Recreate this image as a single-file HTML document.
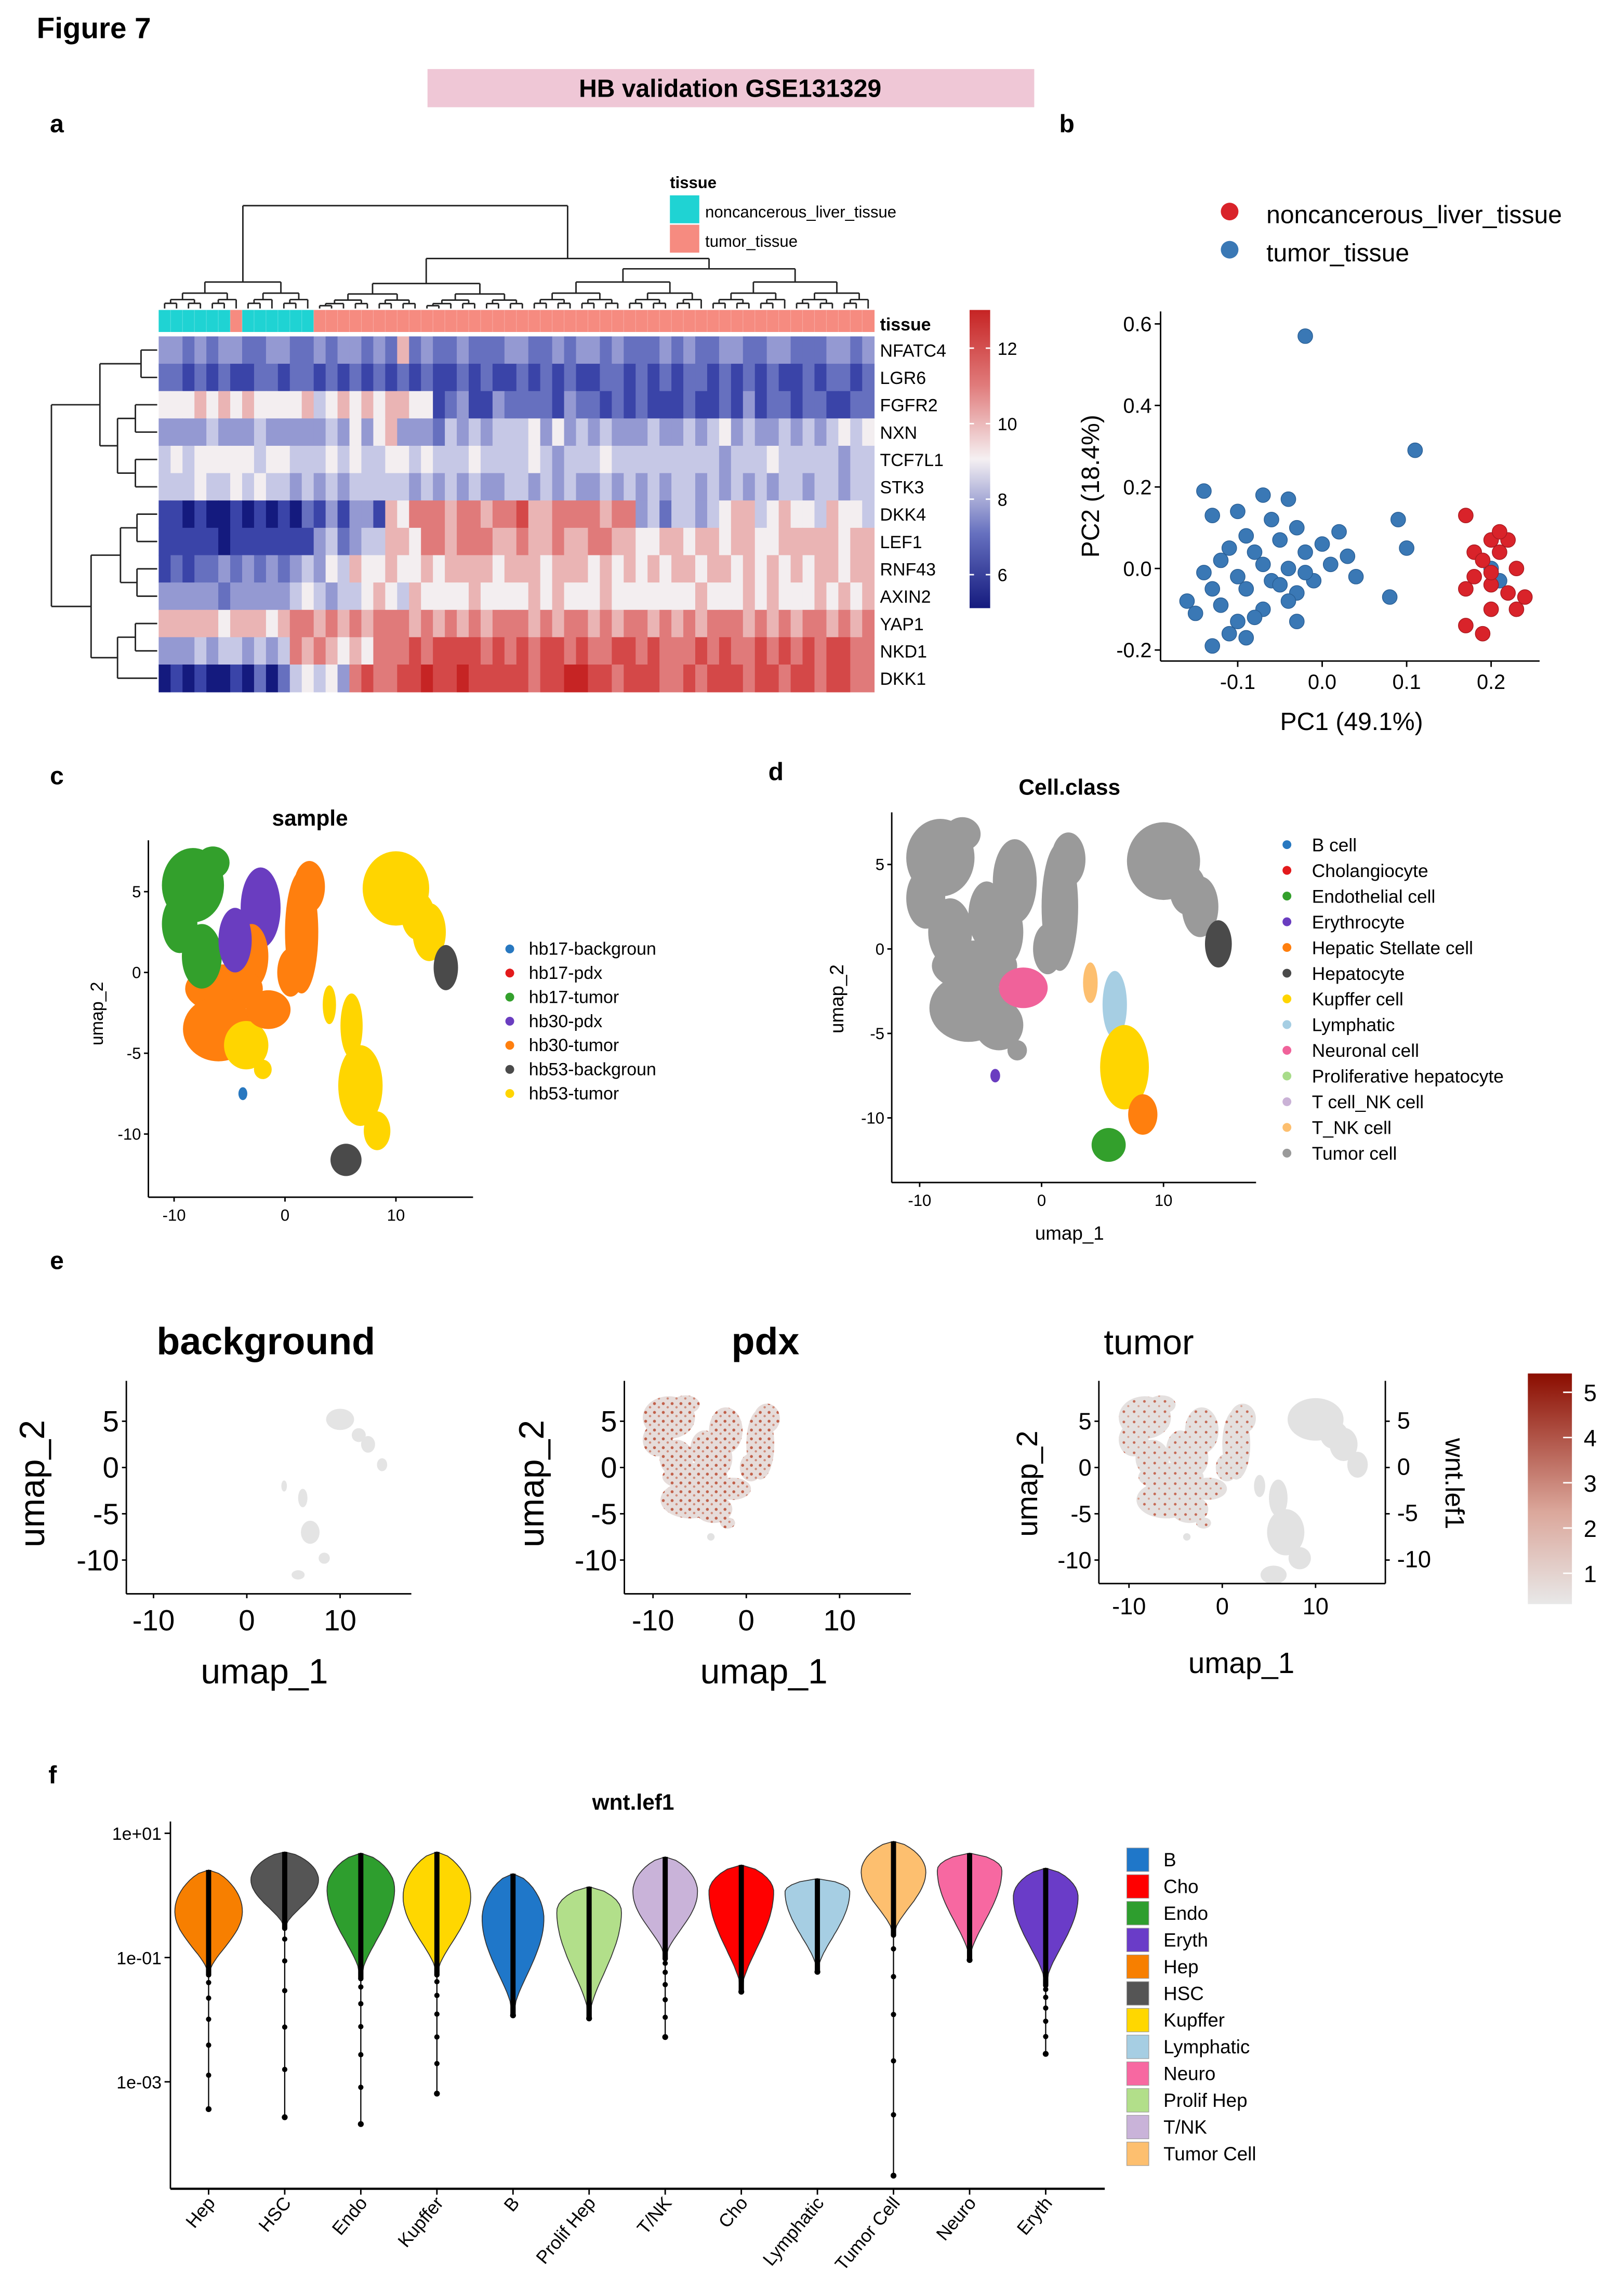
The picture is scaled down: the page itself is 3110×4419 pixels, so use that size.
<!DOCTYPE html>
<html><head><meta charset="utf-8"><style>
html,body{margin:0;padding:0;background:#fff;}
svg{display:block;font-family:"Liberation Sans",Arial,sans-serif;}
</style></head><body>
<svg id="fig" width="3110" height="4419" viewBox="0 0 1100 1563" xmlns="http://www.w3.org/2000/svg">
<defs>
<linearGradient id="hmgrad" x1="0" y1="1" x2="0" y2="0">
<stop offset="0" stop-color="#141a7e"/><stop offset="0.25" stop-color="#6670bf"/><stop offset="0.5" stop-color="#f5f0f2"/><stop offset="0.75" stop-color="#e07a7a"/><stop offset="1" stop-color="#c62424"/>
</linearGradient>
<linearGradient id="exgrad" x1="0" y1="1" x2="0" y2="0">
<stop offset="0" stop-color="#e8e8e8"/><stop offset="0.4" stop-color="#dba79b"/><stop offset="1" stop-color="#8b0d00"/>
</linearGradient>
<pattern id="redspeck" width="6" height="6" patternUnits="userSpaceOnUse">
<rect width="6" height="6" fill="#e6dcda"/><circle cx="1.5" cy="1.5" r="1" fill="#c0604a"/><circle cx="4.5" cy="4" r="0.8" fill="#d08a78"/>
</pattern>
<pattern id="redspeck2" width="7" height="7" patternUnits="userSpaceOnUse">
<rect width="7" height="7" fill="#e4e0df"/><circle cx="2" cy="2" r="0.9" fill="#c56a55"/><circle cx="5" cy="5.2" r="0.7" fill="#d8a090"/>
</pattern>
</defs>
<text x="25" y="26" font-size="20" font-weight="bold">Figure 7</text>
<rect x="291" y="47" width="413" height="26" fill="#efc7d6"/>
<text x="497" y="66" font-size="17" font-weight="bold" text-anchor="middle">HB validation GSE131329</text>
<text x="34" y="90" font-size="17" font-weight="bold">a</text>
<text x="721" y="90" font-size="17" font-weight="bold">b</text>
<text x="34" y="534" font-size="17" font-weight="bold">c</text>
<text x="523" y="531" font-size="17" font-weight="bold">d</text>
<text x="34" y="864" font-size="17" font-weight="bold">e</text>
<text x="33" y="1214" font-size="17" font-weight="bold">f</text>
<g id="pa"></g>
<g id="pb"></g>
<g id="pc"></g>
<g id="pd"></g>
<g id="pe"></g>
<g id="pf"></g>
</svg>
<script>
const NS='http://www.w3.org/2000/svg';
function mk(tag, attrs, parent, name){
  const el=document.createElementNS(NS,tag);
  for(const k in attrs) el.setAttribute(k,attrs[k]);
  
  
  parent.appendChild(el);
  return el;
}
function txt(parent,x,y,s,size,name,extra){
  const a=Object.assign({x:x,y:y,'font-size':size},extra||{});
  const t=mk('text',a,parent,name); t.textContent=s; return t;
}

/* ---------- Panel a: heatmap data ---------- */
const genes=['NFATC4','LGR6','FGFR2','NXN','TCF7L1','STK3','DKK4','LEF1','RNF43','AXIN2','YAP1','NKD1','DKK1'];
const tissueCols='NNNNNNTNNNNNNTTTTTTTTTTTTTTTTTTTTTTTTTTTTTTTTTTTTTTTTTTTTTTT';
const expr=[
'332323322332232332326232232223322323323222323223322332223323',
'221212112212212121212121121211212121122121212212121211212212',
'555656565555645656566551231132222132212121112112131221221122',
'333343334333334353563332434344453534343334334345343343434545',
'454555554554445454455454445444454344454444444443444544444344',
'444544545443434344444343434334434343343434344343434344344344',
'110100101010213133165777677677866777767734244345664565546554',
'111110111111134234466577677766766766776655665665665566666566',
'121223232323435465565565666656665666565656566566565656566566',
'333332333334543445654655556555565655565555555655565655565656',
'666665666567767676777676767677767677676776767677767676776767',
'333434434347676565777878888787878878778878777878778787878877',
'010100102024545378778898898888878899887888778788878878878877'];
const palette=['#141a7e','#3a44a8','#6670bf','#9499d2','#c6c8e6','#f3eef0','#eab4b4','#e07a7a','#d44848','#c62424'];
const hmTicks=[12,10,8,6];

(function(){
  const g=document.getElementById('pa');
  const x0=108,x1=595,y0=229,y1=471;
  const nc=expr[0].length, cw=(x1-x0)/nc, rh=(y1-y0)/genes.length;
  for(let j=0;j<tissueCols.length;j++){
    mk('rect',{x:x0+j*cw,y:211,width:cw+0.3,height:15,fill:tissueCols[j]==='N'?'#1fd3d3':'#f68b80'},g,'tissue-cell');
  }
  for(let j=1;j<tissueCols.length;j++){
    mk('line',{x1:x0+j*cw,x2:x0+j*cw,y1:211,y2:226,stroke:'#fff','stroke-opacity':0.25,'stroke-width':0.4},g,'tissue-grid');
  }
  txt(g,599,225,'tissue',12,'tissue-row-label',{'font-weight':'bold'});
  for(let i=0;i<genes.length;i++){
    const row=expr[i];
    for(let j=0;j<row.length;j++){
      mk('rect',{x:x0+j*cw,y:y0+i*rh,width:cw+0.3,height:rh+0.3,fill:palette[+row[j]]},g,'heatmap-cell');
    }
    txt(g,599,y0+i*rh+rh/2+4.5,genes[i],12,'gene-label');
  }
  function line(a,b,c,d){mk('line',{x1:a,y1:b,x2:c,y2:d,stroke:'#222','stroke-width':1},g,'dendrogram-branch');}
  function cx(j){return x0+(j+0.5)*cw;}
  function rec(a,b,y){
    if(a===b) return [cx(a),210];
    const m=Math.floor((a+b)/2), yc=y+(210-y)*0.42;
    const L=rec(a,m,yc),R=rec(m+1,b,yc);
    line(L[0],y,L[0],L[1]);line(R[0],y,R[0],R[1]);line(L[0],y,R[0],y);
    return [(L[0]+R[0])/2,y];
  }
  function join(L,R,y){line(L[0],y,L[0],L[1]);line(R[0],y,R[0],R[1]);line(L[0],y,R[0],y);return [(L[0]+R[0])/2,y];}
  const nrm=rec(0,12,192), t1=rec(13,30,193), t2a=rec(31,45,192), t2b=rec(46,59,192);
  const t2=join(t2a,t2b,183), t=join(t1,t2,176);
  join(nrm,t,140);
  function ry(i){return y0+(i+0.5)*rh;}
  function rec2(a,b,x){
    if(a===b) return [107,ry(a)];
    const m=Math.floor((a+b)/2), xc=x+(107-x)*0.45;
    const L=rec2(a,m,xc),R=rec2(m+1,b,xc);
    line(x,L[1],L[0],L[1]);line(x,R[1],R[0],R[1]);line(x,L[1],x,R[1]);
    return [x,(L[1]+R[1])/2];
  }
  function join2(L,R,x){line(x,L[1],L[0],L[1]);line(x,R[1],R[0],R[1]);line(x,L[1],x,R[1]);return [x,(L[1]+R[1])/2];}
  const u1=rec2(0,1,96), u2=rec2(2,5,80), U=join2(u1,u2,68);
  const m1=rec2(6,9,82), m2=rec2(10,12,80), M=join2(m1,m2,62);
  join2(U,M,35);
  txt(g,456,128,'tissue',11,'legend-title',{'font-weight':'bold'});
  mk('rect',{x:456,y:133,width:20,height:19,fill:'#1fd3d3'},g,'legend-swatch-noncancerous');
  mk('rect',{x:456,y:153,width:20,height:19,fill:'#f68b80'},g,'legend-swatch-tumor');
  txt(g,480,148,'noncancerous_liver_tissue',11,'legend-label-noncancerous');
  txt(g,480,168,'tumor_tissue',11,'legend-label-tumor');
  mk('rect',{x:660,y:211,width:14,height:203,fill:'url(#hmgrad)'},g,'heatmap-colorbar');
  const cbY=v=>237+(12-v)*25.7;
  hmTicks.forEach(v=>{
    mk('line',{x1:660,x2:663,y1:cbY(v),y2:cbY(v),stroke:'#fff'},g,'colorbar-tick');
    mk('line',{x1:671,x2:674,y1:cbY(v),y2:cbY(v),stroke:'#fff'},g,'colorbar-tick');
    txt(g,679,cbY(v)+4.5,String(v),12,'colorbar-tick-label');
  });
})();

/* ---------- Panel b: PCA ---------- */
const pcTumorX=[-0.02,0.11,-0.14,-0.07,-0.04,-0.1,-0.06,-0.03,-0.13,0.09,0.02,-0.09,-0.05,0,0.1,-0.11,-0.08,-0.02,0.03,-0.12,-0.07,-0.04,0.01,-0.14,-0.1,-0.06,-0.01,-0.13,-0.09,-0.03,0.08,-0.16,-0.12,-0.07,-0.04,-0.15,-0.1,-0.03,-0.11,-0.09,-0.13,0.2,0.21,-0.08,-0.05,-0.02,0.04];
const pcTumorY=[0.57,0.29,0.19,0.18,0.17,0.14,0.12,0.1,0.13,0.12,0.09,0.08,0.07,0.06,0.05,0.05,0.04,0.04,0.03,0.02,0.01,0,0.01,-0.01,-0.02,-0.03,-0.03,-0.05,-0.05,-0.06,-0.07,-0.08,-0.09,-0.1,-0.08,-0.11,-0.13,-0.13,-0.16,-0.17,-0.19,0,-0.03,-0.12,-0.04,-0.01,-0.02];
const pcNormX=[0.17,0.2,0.22,0.18,0.21,0.19,0.23,0.18,0.2,0.22,0.24,0.17,0.2,0.23,0.17,0.19,0.21,0.2];
const pcNormY=[0.13,0.07,0.07,0.04,0.04,0.02,0,-0.02,-0.04,-0.06,-0.07,-0.05,-0.1,-0.1,-0.14,-0.16,0.09,-0.01];
const pcXTicks=[-0.1,0.0,0.1,0.2];
const pcYTicks=[0.6,0.4,0.2,0.0,-0.2];
(function(){
  const g=document.getElementById('pb');
  const X=v=>900+575*v, Y=v=>387-277.5*v;
  const L=790;
  mk('line',{x1:L,y1:212,x2:L,y2:450,stroke:'#000','stroke-width':1},g,'y-axis-line');
  mk('line',{x1:L,y1:450,x2:1048,y2:450,stroke:'#000','stroke-width':1},g,'x-axis-line');
  pcYTicks.forEach(v=>{
    mk('line',{x1:L-4,x2:L,y1:Y(v),y2:Y(v),stroke:'#000'},g,'y-tick');
    txt(g,L-6,Y(v)+5,v.toFixed(1),14,'y-tick-label',{'text-anchor':'end'});
  });
  pcXTicks.forEach(v=>{
    mk('line',{x1:X(v),x2:X(v),y1:450,y2:454,stroke:'#000'},g,'x-tick');
    txt(g,X(v),469,v.toFixed(1),14,'x-tick-label',{'text-anchor':'middle'});
  });
  txt(g,920,497,'PC1 (49.1%)',17,'x-axis-title',{'text-anchor':'middle'});
  txt(g,0,0,'PC2 (18.4%)',17,'y-axis-title',{'text-anchor':'middle',transform:'translate(748,331) rotate(-90)'});
  pcTumorX.forEach((v,i)=>mk('circle',{cx:X(v),cy:Y(pcTumorY[i]),r:5,fill:'#3a78b5',stroke:'#2a5f95','stroke-width':0.5},g,'point-tumor'));
  pcNormX.forEach((v,i)=>mk('circle',{cx:X(v),cy:Y(pcNormY[i]),r:5,fill:'#d9232a',stroke:'#a81a20','stroke-width':0.5},g,'point-noncancerous'));
  mk('circle',{cx:837,cy:144,r:6,fill:'#d9232a'},g,'legend-dot-noncancerous');
  mk('circle',{cx:837,cy:170,r:6,fill:'#3a78b5'},g,'legend-dot-tumor');
  txt(g,862,152,'noncancerous_liver_tissue',17,'legend-label-noncancerous');
  txt(g,862,178,'tumor_tissue',17,'legend-label-tumor');
})();

/* ---------- UMAP blob data ---------- */
const blobX=[-8.3,-6.5,-2.2,-3.0,1.5,2.2,-5.5,-6.0,-3.5,-2.0,10.0,13.0,14.5,6.0,6.8,8.3,5.5,-3.8,-1.5,-9.5,0.5,12.0,-7.5,-4.5,4.0];
const blobY=[5.4,6.8,4.0,1.0,2.5,5.3,-1.0,-3.5,-4.5,-6.0,5.2,2.5,0.3,-3.3,-7.0,-9.8,-11.6,-7.5,-2.3,3.0,0.0,3.5,1.0,2.0,-2.0];
const blobRX=[2.8,1.5,1.8,1.5,1.5,1.4,3.5,3.2,2.0,0.8,3.0,1.5,1.1,1.0,2.0,1.2,1.4,0.4,2.0,1.6,1.2,1.5,1.8,1.5,0.6];
const blobRY=[2.3,1.0,2.5,2.0,3.8,1.6,1.5,2.0,1.5,0.6,2.3,1.8,1.4,2.0,2.5,1.2,1.0,0.4,1.2,1.8,1.5,1.5,2.0,2.0,1.2];
const blobSample=[2,2,3,4,4,4,4,4,6,6,6,6,5,6,6,6,5,0,4,2,4,6,2,3,6];
const blobCell=[12,12,12,12,12,12,12,12,12,12,12,12,5,7,6,4,2,3,8,12,12,12,12,12,11];
const sampleNames=['hb17-backgroun','hb17-pdx','hb17-tumor','hb30-pdx','hb30-tumor','hb53-backgroun','hb53-tumor'];
const sampleColors=['#2878c0','#e31a1c','#33a02c','#6a3dc0','#ff7f0e','#4a4a4a','#ffd500'];
const cellNames=['B cell','Cholangiocyte','Endothelial cell','Erythrocyte','Hepatic Stellate cell','Hepatocyte','Kupffer cell','Lymphatic','Neuronal cell','Proliferative hepatocyte','T cell_NK cell','T_NK cell','Tumor cell'];
const cellColors=['#2878c0','#e31a1c','#33a02c','#6a3dc0','#ff7f0e','#4a4a4a','#ffd500','#a6cee3','#f0629a','#a8dc8a','#cab2d6','#fdbf6f','#9a9a9a'];
const umapXTicks=[-10,0,10];
const umapYTicks=[5,0,-5,-10];

function umapAxes(g,o){
  mk('line',{x1:o.l,y1:o.t,x2:o.l,y2:o.b,stroke:'#000','stroke-width':o.lw||1},g,'y-axis-line');
  mk('line',{x1:o.l,y1:o.b,x2:o.r,y2:o.b,stroke:'#000','stroke-width':o.lw||1},g,'x-axis-line');
  umapXTicks.forEach(v=>{
    mk('line',{x1:o.X(v),x2:o.X(v),y1:o.b,y2:o.b+3,stroke:'#000'},g,'x-tick');
    txt(g,o.X(v),o.b+o.fs+5,String(v),o.fs,'x-tick-label',{'text-anchor':'middle'});
  });
  umapYTicks.forEach(v=>{
    mk('line',{x1:o.l-3,x2:o.l,y1:o.Y(v),y2:o.Y(v),stroke:'#000'},g,'y-tick');
    txt(g,o.l-5,o.Y(v)+o.fs*0.35,String(v),o.fs,'y-tick-label',{'text-anchor':'end'});
  });
}

/* ---------- Panel c ---------- */
(function(){
  const g=document.getElementById('pc');
  const X=v=>194+7.55*v, Y=v=>662-11*v;
  txt(g,211,562,'sample',15,'plot-title',{'font-weight':'bold','text-anchor':'middle'});
  blobX.forEach((v,i)=>{
    mk('ellipse',{cx:X(v),cy:Y(blobY[i]),rx:blobRX[i]*7.55,ry:blobRY[i]*11,fill:sampleColors[blobSample[i]]},g,'umap-cluster');
  });
  umapAxes(g,{l:101,t:572,b:815,r:322,X:X,Y:Y,fs:11});
  txt(g,0,0,'umap_2',12,'y-axis-title',{'text-anchor':'middle',transform:'translate(70,690) rotate(-90)'});
  sampleNames.forEach((s,i)=>{
    const y=646+i*16.4;
    mk('circle',{cx:347,cy:y,r:3,fill:sampleColors[i]},g,'legend-dot');
    txt(g,360,y+4,s,12,'legend-label');
  });
})();

/* ---------- Panel d ---------- */
(function(){
  const g=document.getElementById('pd');
  const X=v=>709+8.3*v, Y=v=>646-11.5*v;
  txt(g,728,541,'Cell.class',15,'plot-title',{'font-weight':'bold','text-anchor':'middle'});
  blobX.forEach((v,i)=>{
    mk('ellipse',{cx:X(v),cy:Y(blobY[i]),rx:blobRX[i]*8.3,ry:blobRY[i]*11.5,fill:cellColors[blobCell[i]]},g,'umap-cluster');
  });
  umapAxes(g,{l:607,t:553,b:805,r:855,X:X,Y:Y,fs:11});
  txt(g,0,0,'umap_2',13,'y-axis-title',{'text-anchor':'middle',transform:'translate(574,680) rotate(-90)'});
  txt(g,728,844,'umap_1',13,'x-axis-title',{'text-anchor':'middle'});
  cellNames.forEach((s,i)=>{
    const y=575+i*17.5;
    mk('circle',{cx:876,cy:y,r:3,fill:cellColors[i]},g,'legend-dot');
    txt(g,893,y+4.5,s,12.5,'legend-label');
  });
})();

/* ---------- Panel e ---------- */
const exprTicks=[5,4,3,2,1];
(function(){
  const g=document.getElementById('pe');
  const subs=[
    {name:'background',tx:181,l:86,r:280,b:1085,x0:168,fs:20,ts:26,bold:true,mode:0,ylab:30,xlab:180,xly:1146,tfs:24},
    {name:'pdx',tx:521,l:425,r:620,b:1085,x0:508,fs:20,ts:26,bold:true,mode:1,ylab:370,xlab:520,xly:1146,tfs:24},
    {name:'tumor',tx:782,l:748,r:943,b:1078,x0:832,fs:16,ts:24,bold:false,mode:2,ylab:706,xlab:845,xly:1139,tfs:20}
  ];
  subs.forEach(s=>{
    const X=v=>s.x0+6.35*v, Y=v=>999-6.3*v;
    const sg=mk('g',{},g,'feature-plot-'+s.name);
    txt(sg,s.tx,922,s.name,s.ts,'plot-title',{'text-anchor':'middle','font-weight':s.bold?'bold':'normal'});
    blobX.forEach((v,i)=>{
      let fill='#e2e2e2', sc=1;
      if(s.mode===0){ if(blobX[i]<4) return; sc=0.5; fill='#e4e4e4'; }
      else if(blobX[i]<4 && blobY[i]>-7) fill = s.mode===1?'url(#redspeck)':'url(#redspeck2)';
      if(s.mode===1 && blobX[i]>=4) return;
      mk('ellipse',{cx:X(v),cy:Y(blobY[i]),rx:blobRX[i]*6.35*sc,ry:blobRY[i]*6.3*sc,fill:fill},sg,'umap-cluster');
    });
    umapAxes(sg,{l:s.l,t:940,b:s.b,r:s.r,X:X,Y:Y,fs:s.fs});
    txt(sg,0,0,'umap_2',s.tfs,'y-axis-title',{'text-anchor':'middle',transform:'translate('+s.ylab+',1010) rotate(-90)'});
    txt(sg,s.xlab,s.xly,'umap_1',s.tfs,'x-axis-title',{'text-anchor':'middle'});
    if(s.mode===2){
      mk('line',{x1:943,y1:940,x2:943,y2:1078,stroke:'#000'},sg,'right-axis-line');
      umapYTicks.forEach(v=>{
        mk('line',{x1:943,x2:946,y1:Y(v),y2:Y(v),stroke:'#000'},sg,'right-tick');
        txt(sg,951,Y(v)+5,String(v),16,'right-tick-label');
      });
      txt(sg,0,0,'wnt.lef1',18,'right-axis-title',{'text-anchor':'middle',transform:'translate(984,1010) rotate(90)'});
    }
  });
  mk('rect',{x:1040,y:935,width:30,height:157,fill:'url(#exgrad)'},g,'expression-colorbar');
  const cY=v=>1071-(v-1)*30.8;
  exprTicks.forEach(v=>{
    mk('line',{x1:1064,x2:1070,y1:cY(v),y2:cY(v),stroke:'#fff'},g,'colorbar-tick');
    txt(g,1078,cY(v)+6,String(v),16,'colorbar-tick-label');
  });
})();

/* ---------- Panel f: violin ---------- */
const vCats=['Hep','HSC','Endo','Kupffer','B','Prolif Hep','T/NK','Cho','Lymphatic','Tumor Cell','Neuro','Eryth'];
const vColors=['#f77f00','#555555','#2e9e2e','#ffd700','#1f77c9','#b2df8a','#c9b3d9','#ff0000','#a6cee3','#fdbf6f','#f768a1','#6a3cc8'];
const vTop=[0.41,0.70,0.68,0.70,0.35,0.14,0.62,0.49,0.27,0.87,0.68,0.44];
const vPeak=[-0.26,0.25,0.11,-0.02,-0.37,-0.26,0.06,0.06,0.06,0.38,0.41,-0.02];
const vBottom=[-1.28,-0.53,-1.34,-1.28,-1.93,-1.98,-1.02,-1.55,-1.23,-0.64,-1.04,-1.45];
const vTail=[-3.44,-3.57,-3.68,-3.19,-1.93,-1.98,-2.28,-1.55,-1.23,-4.51,-1.04,-2.55];
const vWidth=[23,23,23,23,21,22,22,22,22,22,22,22];
const legendOrder=['B','Cho','Endo','Eryth','Hep','HSC','Kupffer','Lymphatic','Neuro','Prolif Hep','T/NK','Tumor Cell'];
const fYTicks=[1,-1,-3];
const fYTickLabels=['1e+01','1e-01','1e-03'];
(function(){
  const g=document.getElementById('pf');
  const X=i=>142+i*51.8, Y=v=>1248+(1-v)*42.3;
  txt(g,431,1232,'wnt.lef1',15,'plot-title',{'font-weight':'bold','text-anchor':'middle'});
  mk('line',{x1:116,y1:1240,x2:116,y2:1490,stroke:'#000'},g,'y-axis-line');
  mk('line',{x1:116,y1:1490,x2:752,y2:1490,stroke:'#000','stroke-width':1.5},g,'x-axis-line');
  fYTicks.forEach((v,i)=>{
    mk('line',{x1:112,x2:116,y1:Y(v),y2:Y(v),stroke:'#000'},g,'y-tick');
    txt(g,110,Y(v)+4.5,fYTickLabels[i],12,'y-tick-label',{'text-anchor':'end'});
  });
  vCats.forEach((c,i)=>{
    const cx=X(i), top=vTop[i], pk=vPeak[i], bt=vBottom[i], w=vWidth[i];
    const right=[], left=[];
    const n=30;
    for(let k=0;k<=n;k++){
      const v=top-(top-bt)*k/n;
      let hw;
      if(v>=pk){ const t=(top-v)/(top-pk); hw=w*Math.pow(Math.sin(t*Math.PI/2),0.6); }
      else { const t=(pk-v)/(pk-bt); hw=Math.max(1.5,w*Math.pow(Math.cos(t*Math.PI/2),1.6)); }
      right.push((cx+hw).toFixed(1)+','+Y(v).toFixed(1));
      left.unshift((cx-hw).toFixed(1)+','+Y(v).toFixed(1));
    }
    mk('path',{d:'M'+right.join(' L')+' L'+left.join(' L')+'Z',fill:vColors[i],stroke:'#333','stroke-width':0.6},g,'violin-'+c);
    mk('line',{x1:cx,x2:cx,y1:Y(top),y2:Y(vTail[i]),stroke:'#000','stroke-width':0.8},g,'jitter-line');
    mk('line',{x1:cx,x2:cx,y1:Y(top),y2:Y(bt),stroke:'#000','stroke-width':3.5},g,'jitter-points');
    const span=bt-vTail[i];
    for(let k=0;k<=6 && span>0.05;k++){
      mk('circle',{cx:cx,cy:Y(bt-span*Math.pow(k/6,1.6)),r:1.8,fill:'#000'},g,'jitter-point');
    }
    mk('circle',{cx:cx,cy:Y(vTail[i]),r:2,fill:'#000'},g,'jitter-point');
    mk('line',{x1:cx,x2:cx,y1:1490,y2:1494,stroke:'#000'},g,'x-tick');
    txt(g,0,0,c,12.5,'x-tick-label',{'text-anchor':'end',transform:'translate('+(cx+5)+',1500) rotate(-50)'});
  });
  legendOrder.forEach((c,i)=>{
    const y=1258+i*18.2;
    const ci=vCats.indexOf(c);
    mk('rect',{x:767,y:y,width:15,height:16,fill:vColors[ci],stroke:'#999','stroke-width':0.4},g,'legend-swatch');
    txt(g,792,y+12.5,c,13,'legend-label');
  });
})();
</script>
</body></html>
